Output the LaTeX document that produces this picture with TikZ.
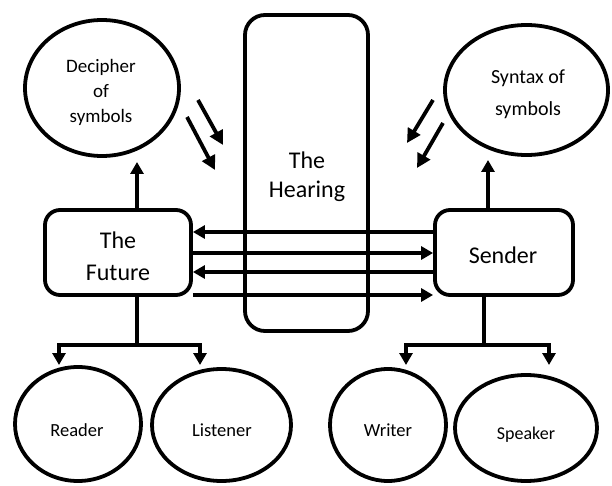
\documentclass[tikz,border=0pt]{standalone}
\usepackage{fontspec}
\setmainfont{Carlito}
\usetikzlibrary{arrows.meta,shapes.geometric}
\begin{document}
\begin{tikzpicture}[x=1pt,y=-1pt,
  thick line/.style={line width=3.8pt},
  oval/.style={ellipse, draw, line width=3.8pt, inner sep=0pt},
  rbox/.style={draw, line width=3.8pt, inner sep=0pt},
  arr/.style={line width=3.8pt, -{Triangle[length=12pt,width=13pt]}},
  diag/.style={line width=3.8pt, -{Triangle[length=14pt,width=14pt]}},
  big/.style={font=\fontsize{24}{31}\selectfont, align=center},
  small/.style={font=\fontsize{19}{25}\selectfont, align=center}
]
\useasboundingbox (0,0) rectangle (612,486);

% upper ovals
\node[oval, minimum width=154pt, minimum height=136pt] (decipher) at (102,88) {};
\node[small] at (101,92) {Decipher\\of\\symbols};
\node[oval, minimum width=163pt, minimum height=130pt] (syntax) at (526.5,90) {};
\node[font=\fontsize{20}{32}\selectfont, align=center] at (528,94) {Syntax of\\symbols};

% central column
\node[rbox, rounded corners=20pt, minimum width=123pt, minimum height=316pt] (hearing) at (306.5,173) {};
\node[big, font=\fontsize{24}{29}\selectfont] at (307,177) {The\\Hearing};

% side boxes
\node[rbox, rounded corners=15pt, minimum width=146pt, minimum height=85pt] (future) at (118,252.5) {};
\node[big, font=\fontsize{24}{32}\selectfont] at (118,256) {The\\Future};
\node[rbox, rounded corners=15pt, minimum width=138pt, minimum height=85pt] (sender) at (504,252.5) {};
\node[big] at (503,255) {Sender};

% lower ovals
\node[oval, minimum width=126pt, minimum height=114pt] (reader) at (78,424) {};
\node[small, font=\fontsize{18.5}{24}\selectfont] at (77,430) {Reader};
\node[oval, minimum width=139pt, minimum height=112pt] (listener) at (221.5,425) {};
\node[small, font=\fontsize{18.5}{24}\selectfont] at (222,430) {Listener};
\node[oval, minimum width=116pt, minimum height=112pt] (writer) at (388,425) {};
\node[small, font=\fontsize{18.5}{24}\selectfont] at (388,430) {Writer};
\node[oval, minimum width=142pt, minimum height=106pt] (speaker) at (526,428) {};
\node[small, font=\fontsize{18}{24}\selectfont] at (526,435) {Speaker};

% vertical links to the upper ovals
\coordinate (dectip) at (137,162);
\coordinate (syntip) at (488,160);
\draw[arr] (future.north -| dectip) -- (dectip);
\draw[arr] (sender.north -| syntip) -- (syntip);

% exchanges between the two boxes
\draw[arr] (sender.west |- 0,232) -- (future.east |- 0,232);
\draw[arr] (future.east |- 0,253) -- (sender.west |- 0,253);
\draw[arr] (sender.west |- 0,272) -- (future.east |- 0,272);
\draw[arr] (future.east |- 0,295) -- (sender.west |- 0,295);

% branching to the lower ovals
\coordinate (lsplit) at (137,345);
\coordinate (rsplit) at (484,345);
\coordinate (readin) at (59,365);
\coordinate (listin) at (200,365);
\coordinate (writin) at (406,365);
\coordinate (speakin) at (549,365);
\draw[thick line] (future.south -| lsplit) -- (lsplit);
\draw[thick line] (sender.south -| rsplit) -- (rsplit);
\draw[arr] (lsplit) -| (readin);
\draw[arr] (lsplit) -| (listin);
\draw[arr] (rsplit) -| (writin);
\draw[arr] (rsplit) -| (speakin);

% slanted arrows toward the central column
\coordinate (la1) at (198,100);  \coordinate (la1e) at (223,145);
\coordinate (la2) at (187,117);  \coordinate (la2e) at (215,170);
\coordinate (ra1) at (433,100);  \coordinate (ra1e) at (407,143);
\coordinate (ra2) at (443,123);  \coordinate (ra2e) at (417,168);
\draw[diag] (la1) -- (la1e);
\draw[diag] (la2) -- (la2e);
\draw[diag] (ra1) -- (ra1e);
\draw[diag] (ra2) -- (ra2e);
\end{tikzpicture}
\end{document}
